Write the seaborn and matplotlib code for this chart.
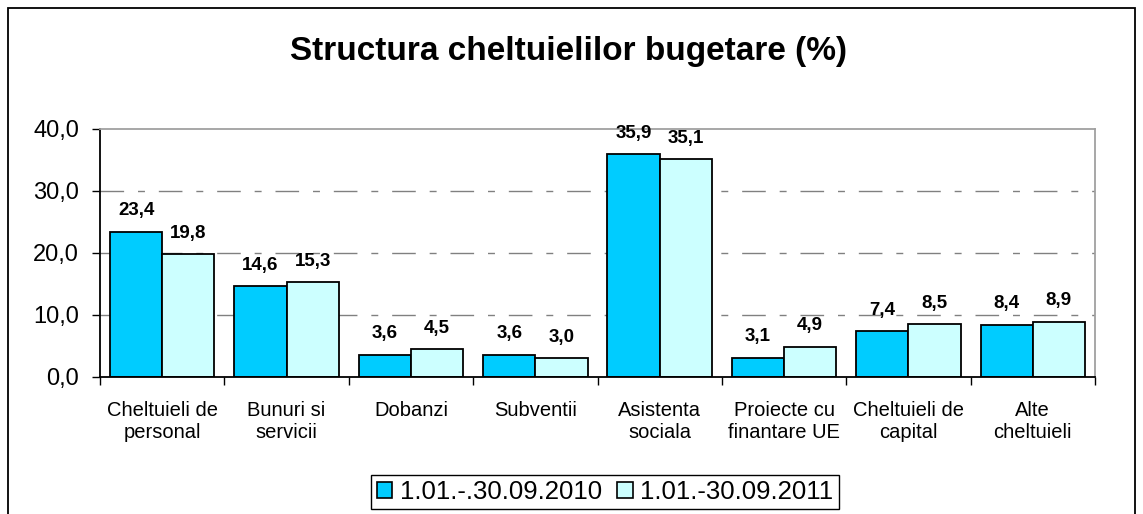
import pandas as pd
import seaborn as sns
import matplotlib.pyplot as plt
from matplotlib.patches import Rectangle, Patch
from matplotlib.ticker import FuncFormatter, FixedLocator

# Data
categories = ["Cheltuieli de\npersonal", "Bunuri si\nservicii", "Dobanzi", "Subventii",
              "Asistenta\nsociala", "Proiecte cu\nfinantare UE", "Cheltuieli de\ncapital",
              "Alte\ncheltuieli"]
periods = ["1.01.-.30.09.2010", "1.01.-30.09.2011"]
values_2010 = [23.4, 14.6, 3.6, 3.6, 35.9, 3.1, 7.4, 8.4]
values_2011 = [19.8, 15.3, 4.5, 3.0, 35.1, 4.9, 8.5, 8.9]
colors = ["#00CCFF", "#CCFFFF"]

df = pd.DataFrame({
    "categorie": categories * 2,
    "perioada": [periods[0]] * len(categories) + [periods[1]] * len(categories),
    "valoare": values_2010 + values_2011,
})

sns.set_theme(style="white")
plt.rcParams["font.family"] = ["Liberation Sans", "DejaVu Sans"]
plt.rcParams["text.color"] = "black"
plt.rcParams["xtick.color"] = "black"
plt.rcParams["ytick.color"] = "black"

fig = plt.figure(figsize=(11.43, 5.14), dpi=100)
ax = fig.add_axes([100 / 1143, 1 - 377 / 514, 995 / 1143, 248 / 514])

sns.barplot(data=df, x="categorie", y="valoare", hue="perioada", palette=colors,
            edgecolor="black", linewidth=1.3, width=0.84, gap=0, saturation=1,
            ax=ax, legend=False)

# data labels with comma decimals
for cont, vals in zip(ax.containers, [values_2010, values_2011]):
    ax.bar_label(cont, labels=[f"{v:.1f}".replace(".", ",") for v in vals],
                 padding=9, fontsize=13.5, fontweight="bold", color="black")

ax.set_ylim(0, 40)
ax.set_xlim(-0.5, len(categories) - 0.5)
ax.set_yticks([0, 10, 20, 30, 40])
ax.yaxis.set_major_formatter(FuncFormatter(lambda v, p: f"{v:.1f}".replace(".", ",")))
ax.tick_params(axis="y", labelsize=17, length=6, width=1, direction="out", left=True, pad=9)
ax.tick_params(axis="x", which="major", labelsize=14.5, length=0, pad=17)
ax.xaxis.set_minor_locator(FixedLocator([i - 0.5 for i in range(len(categories) + 1)]))
ax.tick_params(axis="x", which="minor", length=6, width=1, direction="out", bottom=True)
for lab in ax.get_xticklabels():
    lab.set_linespacing(1.25)
ax.set_xlabel("")
ax.set_ylabel("")

for y in [10, 20, 30]:
    ax.axhline(y, color="#808080", linewidth=1, dashes=(17, 10, 5, 10), zorder=0)

for side in ["left", "bottom"]:
    ax.spines[side].set_color("black")
    ax.spines[side].set_linewidth(1.3)
for side in ["top", "right"]:
    ax.spines[side].set_color("#A0A0A0")
    ax.spines[side].set_linewidth(1.3)

fig.text(0.497, 0.9, "Structura cheltuielilor bugetare (%)", ha="center", va="center",
         fontsize=24, fontweight="bold")

handles = [Patch(facecolor=c, edgecolor="black", linewidth=1.2) for c in colors]
fig.legend(handles, periods, loc="center", bbox_to_anchor=(605 / 1143, 1 - 492 / 514), ncol=2,
           frameon=True, fancybox=False, edgecolor="black", fontsize=18.5,
           handlelength=0.6, handleheight=0.6, handletextpad=0.3, columnspacing=0.6,
           borderpad=0.2, framealpha=1)

# outer chart frame
fig.patches.append(Rectangle((8 / 1143, -0.05), 1127 / 1143, 1.05 - 8 / 514, transform=fig.transFigure,
                             fill=False, edgecolor="black", linewidth=1.3))

fig.savefig("out.png", dpi=100, facecolor="white")
